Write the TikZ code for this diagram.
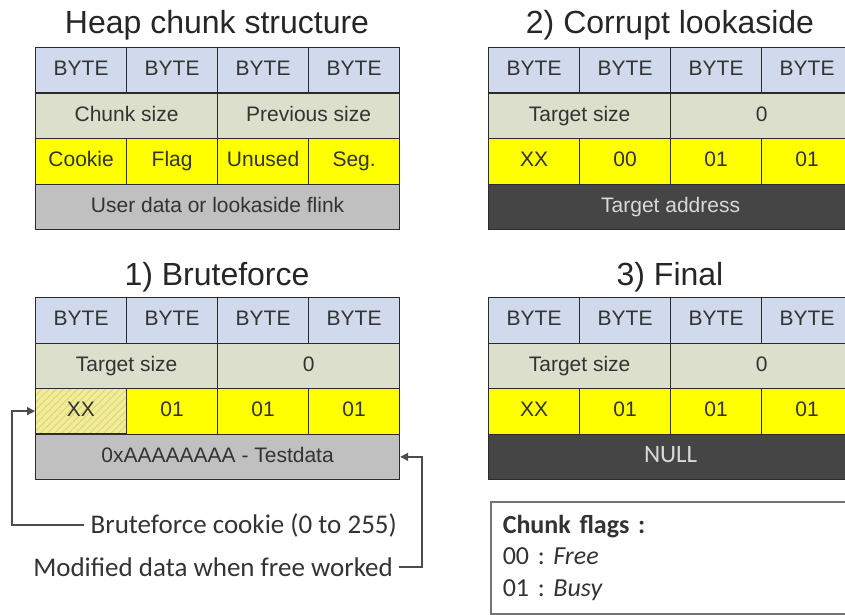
\documentclass[tikz,border=0pt]{standalone}
\usepackage{fontspec}
\setmainfont{Liberation Sans}
\newfontfamily\calibri{Carlito}
\usetikzlibrary{arrows.meta,patterns.meta}
\frenchspacing

\definecolor{bytecol}{HTML}{D0DAEC}
\definecolor{sizecol}{HTML}{DCDFCB}
\definecolor{flagcol}{HTML}{FFFF00}
\definecolor{datacol}{HTML}{C0C0C0}
\definecolor{darkcol}{HTML}{454545}
\definecolor{edgecol}{HTML}{2B2B2B}
\definecolor{inkcol}{HTML}{333333}
\definecolor{hatchbg}{HTML}{F0EC98}
\definecolor{hatchfg}{HTML}{D8CF70}

\tikzset{
	cell/.style={draw=edgecol, line width=1.2pt, inner sep=0pt, anchor=north west,
		minimum height=45.5pt, text height=15pt, text depth=4pt, text=inkcol,
		font=\fontsize{21}{25}\selectfont},
	bytecell/.style={cell, fill=bytecol, minimum width=91pt},
	sizecell/.style={cell, fill=sizecol, minimum width=182pt},
	flagcell/.style={cell, fill=flagcol, minimum width=91pt},
	hatchcell/.style={cell, minimum width=91pt, preaction={fill=hatchbg},
		pattern={Lines[angle=45,distance=5pt,line width=0.7pt]}, pattern color=hatchfg},
	datacell/.style={cell, fill=datacol, minimum width=364pt},
	darkcell/.style={cell, fill=darkcol, minimum width=364pt, text=white!85!black},
	title/.style={font=\fontsize{32}{38}\selectfont, text=black!85, anchor=base},
	note/.style={font=\calibri\fontsize{27}{32}\selectfont, text=black!80, inner xsep=6pt},
	link/.style={draw=black!70, line width=1.3pt, -{Triangle[length=8pt,width=8pt]}}
}

\begin{document}
\begin{tikzpicture}[x=1pt,y=-1pt]
		\useasboundingbox (0,0) rectangle (845,615);

		% Heap chunk structure
		\node[title] (htitle) at (217,34) {Heap chunk structure};
		\begin{scope}[shift={(35,47)}]
			\foreach \i in {0,...,3}
				\node[bytecell] (hb\i) at (91*\i,0) {BYTE};
			\node[sizecell] (hs0) at (0,45.5) {Chunk size};
			\node[sizecell] (hs1) at (182,45.5) {Previous size};
			\node[flagcell] (hf0) at (0,91) {Cookie};
			\node[flagcell] (hf1) at (91,91) {Flag};
			\node[flagcell] (hf2) at (182,91) {Unused};
			\node[flagcell] (hf3) at (273,91) {Seg.};
			\node[datacell] (hd) at (0,136.5) {User data or lookaside flink};
		\end{scope}

		% 2) Corrupt lookaside
		\node[title] (ctitle) at (670,34) {2) Corrupt lookaside};
		\begin{scope}[shift={(488,47)}]
			\foreach \i in {0,...,3}
				\node[bytecell] (cb\i) at (91*\i,0) {BYTE};
			\node[sizecell] (cs0) at (0,45.5) {Target size};
			\node[sizecell] (cs1) at (182,45.5) {0};
			\node[flagcell] (cf0) at (0,91) {XX};
			\node[flagcell] (cf1) at (91,91) {00};
			\node[flagcell] (cf2) at (182,91) {01};
			\node[flagcell] (cf3) at (273,91) {01};
			\node[darkcell] (cd) at (0,136.5) {Target address};
		\end{scope}

		% 1) Bruteforce
		\node[title] (btitle) at (217,285) {1) Bruteforce};
		\begin{scope}[shift={(35,297)}]
			\foreach \i in {0,...,3}
				\node[bytecell] (bb\i) at (91*\i,0) {BYTE};
			\node[sizecell] (bs0) at (0,45.5) {Target size};
			\node[sizecell] (bs1) at (182,45.5) {0};
			\node[hatchcell] (bf0) at (0,91) {XX};
			\node[flagcell] (bf1) at (91,91) {01};
			\node[flagcell] (bf2) at (182,91) {01};
			\node[flagcell] (bf3) at (273,91) {01};
			\node[datacell] (bd) at (0,136.5) {0xAAAAAAAA - Testdata};
		\end{scope}

		% 3) Final
		\node[title] (ftitle) at (670,285) {3) Final};
		\begin{scope}[shift={(488,297)}]
			\foreach \i in {0,...,3}
				\node[bytecell] (fb\i) at (91*\i,0) {BYTE};
			\node[sizecell] (fs0) at (0,45.5) {Target size};
			\node[sizecell] (fs1) at (182,45.5) {0};
			\node[flagcell] (ff0) at (0,91) {XX};
			\node[flagcell] (ff1) at (91,91) {01};
			\node[flagcell] (ff2) at (182,91) {01};
			\node[flagcell] (ff3) at (273,91) {01};
			\node[darkcell, font=\calibri\fontsize{25}{30}\selectfont] (fd) at (0,136.5) {NULL};
		\end{scope}

		% Notes and arrows
		\node[note, anchor=east] (bfnote) at (403,525) {Bruteforce cookie (0 to 255)};
		\node[note, anchor=east] (modnote) at (399,567) {Modified data when free worked};
		\coordinate (bfturn) at (12,525);
		\coordinate (modturn) at (422,567);
		\draw[link] (bfnote.west) -- (bfturn) |- (bf0.west);
		\draw[link] (modnote.east) -- (modturn) |- (bd.east);

		% Chunk flags
		\node[draw=black!55, line width=1.5pt, anchor=north west, minimum width=370pt,
			minimum height=112pt, text width=346pt, inner xsep=12pt, align=left,
			font=\calibri\fontsize{26}{31.5}\selectfont, text=black!80] (flagbox) at (490,501)
			{\textbf{Chunk flags :}\\00 : \textit{Free}\\01 : \textit{Busy}};
	\end{tikzpicture}
\end{document}
